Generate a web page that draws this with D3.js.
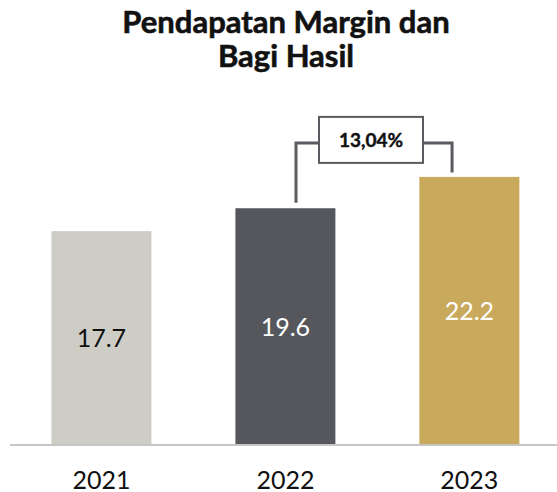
<!DOCTYPE html>
<html>
<head>
<meta charset="utf-8">
<script src="https://cdn.jsdelivr.net/npm/d3@7"></script>
<style>
  html, body { margin: 0; padding: 0; background: #fff; }
  svg { display: block; font-family: Lato, "Open Sans", sans-serif; }
</style>
</head>
<body>
<svg id="chart"></svg>
<script>
// bar chart: pendapatan margin dan bagi hasil, 2021-2023

const years = ["2021", "2022", "2023"];
const values = [17.7, 19.6, 22.2];
const valueLabels = ["17.7", "19.6", "22.2"];
const titleLines = ["Pendapatan Margin dan", "Bagi Hasil"];
const growthLabel = "13,04%";

const w = 557;
const h = 492;
const baseY = 444.5;
const barColors = ["#cdcdc6", "#56575c", "#c9a95b"];
const labelColors = ["#111111", "#ffffff", "#ffffff"];
const lineColor = "#5a5b60";

const svg = d3.select("#chart")
    .attr("width", w)
    .attr("height", h);

// SCALES
const xScale = d3.scaleBand()
    .domain(years)
    .range([9.5, 561.3])
    .paddingInner(0.4565)
    .paddingOuter(0.228);

const yScale = d3.scaleLinear()
    .domain([0, 22.2])
    .range([baseY, 176.9]);

// TITLE (slight stroke to get the heavier weight of the original)
svg.append("g")
    .selectAll("text")
    .data(titleLines)
    .join("text")
    .attr("x", 286)
    .attr("y", (d, i) => 33 + i * 34)
    .attr("text-anchor", "middle")
    .attr("font-size", 31)
    .attr("font-weight", 700)
    .attr("fill", "#111")
    .attr("stroke", "#111")
    .attr("stroke-width", 0.6)
    .text(d => d);

// BARS
const data = years.map((y, i) => ({year: y, value: values[i], label: valueLabels[i]}));

svg.selectAll(".bar")
    .data(data)
    .join("rect")
    .attr("class", "bar")
    .attr("x", d => xScale(d.year))
    .attr("width", xScale.bandwidth())
    .attr("y", d => yScale(d.value))
    .attr("height", d => baseY - yScale(d.value))
    .attr("fill", (d, i) => barColors[i]);

svg.selectAll(".val")
    .data(data)
    .join("text")
    .attr("class", "val")
    .attr("x", d => xScale(d.year) + xScale.bandwidth() / 2)
    .attr("y", d => (yScale(d.value) + baseY) / 2 + 9.5)
    .attr("text-anchor", "middle")
    .attr("font-size", 25)
    .attr("fill", (d, i) => labelColors[i])
    .text(d => d.label);

// AXIS
const xAxis = d3.axisBottom(xScale)
    .tickSize(0)
    .tickSizeOuter(0);

const axisG = svg.append("g")
    .attr("transform", `translate(0,${baseY})`)
    .call(xAxis);

axisG.select(".domain")
    .attr("stroke", "#c6c6c6")
    .attr("stroke-width", 2);

axisG.selectAll(".tick text")
    .attr("y", 44)
    .attr("dy", 0)
    .attr("font-size", 25)
    .attr("font-family", "Lato, sans-serif")
    .attr("fill", "#111");

// GROWTH BRACKET 2022 -> 2023
const leftX = xScale("2022") + xScale.bandwidth() * 0.606;
const rightX = xScale("2023") + xScale.bandwidth() * 0.327;
const bracketY = yScale(d3.max(values)) - 34;
const boxW = 104;
const boxH = 46;
const boxCx = 371;
const boxCy = bracketY - 3;

svg.append("path")
    .attr("d", `M${leftX},${yScale(values[1]) - 5.5}V${bracketY}H${boxCx - boxW / 2}`)
    .attr("fill", "none")
    .attr("stroke", lineColor)
    .attr("stroke-width", 3);

svg.append("path")
    .attr("d", `M${boxCx + boxW / 2},${bracketY}H${rightX}V${yScale(values[2]) - 4.5}`)
    .attr("fill", "none")
    .attr("stroke", lineColor)
    .attr("stroke-width", 3);

svg.append("rect")
    .attr("x", boxCx - boxW / 2)
    .attr("y", boxCy - boxH / 2)
    .attr("width", boxW)
    .attr("height", boxH)
    .attr("fill", "#fff")
    .attr("stroke", lineColor)
    .attr("stroke-width", 2);

svg.append("text")
    .attr("x", boxCx)
    .attr("y", boxCy + 6.8)
    .attr("text-anchor", "middle")
    .attr("font-size", 19)
    .attr("font-weight", 700)
    .attr("fill", "#111")
    .attr("stroke", "#111")
    .attr("stroke-width", 0.4)
    .text(growthLabel);
</script>
</body>
</html>
